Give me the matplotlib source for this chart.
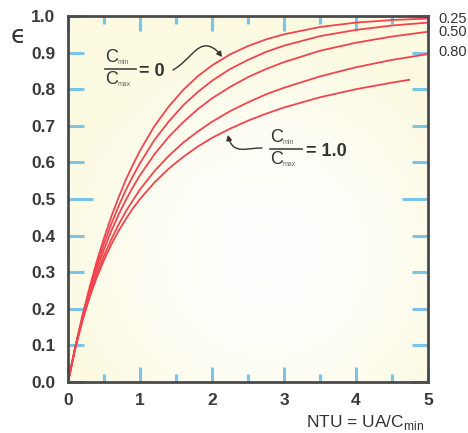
import numpy as np
import matplotlib
matplotlib.use('Agg')
import matplotlib.pyplot as plt
from matplotlib.path import Path
from matplotlib.patches import FancyArrowPatch

plt.rcParams['font.family'] = ['Liberation Sans', 'DejaVu Sans']
plt.rcParams['mathtext.fontset'] = 'custom'
plt.rcParams['mathtext.rm'] = 'Liberation Sans'

# ============================================================
# 数据
# ============================================================
ntu = [0, 0.1, 0.2, 0.3, 0.4, 0.5, 0.6, 0.7, 0.8, 0.9, 1.0, 1.2, 1.4, 1.6, 1.8, 2.0,
       2.25, 2.5, 2.75, 3.0, 3.5, 4.0, 4.5, 5.0]
eff_cr0 = [0, 0.095, 0.181, 0.259, 0.330, 0.393, 0.451, 0.503, 0.551, 0.593, 0.632, 0.699,
           0.753, 0.798, 0.835, 0.865, 0.895, 0.918, 0.936, 0.950, 0.970, 0.982, 0.989, 0.993]
eff_cr025 = [0, 0.094, 0.178, 0.252, 0.318, 0.378, 0.431, 0.479, 0.523, 0.562, 0.598, 0.661,
             0.712, 0.756, 0.792, 0.823, 0.855, 0.880, 0.902, 0.919, 0.945, 0.962, 0.974, 0.982]
eff_cr050 = [0, 0.093, 0.174, 0.245, 0.307, 0.362, 0.412, 0.456, 0.496, 0.532, 0.565, 0.622,
             0.670, 0.710, 0.745, 0.775, 0.806, 0.833, 0.855, 0.874, 0.905, 0.927, 0.944, 0.957]
eff_cr080 = [0, 0.092, 0.169, 0.236, 0.294, 0.345, 0.389, 0.429, 0.465, 0.496, 0.526, 0.576,
             0.618, 0.654, 0.684, 0.711, 0.740, 0.764, 0.786, 0.804, 0.835, 0.860, 0.880, 0.896]
ntu_cr1 = [0, 0.1, 0.2, 0.3, 0.4, 0.5, 0.6, 0.7, 0.8, 0.9, 1.0, 1.2, 1.4, 1.6, 1.8, 2.0,
           2.25, 2.5, 2.75, 3.0, 3.5, 4.0, 4.5, 4.75]
eff_cr1 = [0, 0.091, 0.167, 0.231, 0.286, 0.333, 0.375, 0.412, 0.444, 0.474, 0.500, 0.545,
           0.583, 0.615, 0.643, 0.667, 0.692, 0.714, 0.733, 0.750, 0.778, 0.800, 0.818, 0.826]

right_labels = ['0.25', '0.50', '0.80']
right_label_y = [0.992, 0.955, 0.902]

# ============================================================
# 画图
# ============================================================
W, H = 468, 433
fig = plt.figure(figsize=(W / 100, H / 100), dpi=100)
ax = fig.add_axes([68 / W, 1 - 382 / H, 360 / W, 366 / H])

def px(x, y):
    """像素 -> figure fraction"""
    return x / W, 1 - y / H

def pd_(x, y):
    """像素 -> 数据坐标"""
    return (x - 68) / 72.0, (382 - y) / 366.0

# 背景渐变: 中心白, 四周淡黄
gx, gy = np.meshgrid(np.linspace(0, 1, 200), np.linspace(0, 1, 200))
r = np.sqrt((gx - 0.55) ** 2 + (gy - 0.35) ** 2) / 0.6
t = np.clip(r, 0, 1) ** 1.6
cream = np.array([252, 250, 224]) / 255.0
img = (1 - t)[..., None] * np.ones(3) + t[..., None] * cream
ax.imshow(img, extent=[0, 5, 0, 1], origin='lower', aspect='auto', zorder=0)

red = '#f0454f'
for xs, ys in [(ntu, eff_cr0), (ntu, eff_cr025), (ntu, eff_cr050), (ntu, eff_cr080), (ntu_cr1, eff_cr1)]:
    ax.plot(xs, ys, color=red, lw=1.3, zorder=2, solid_capstyle='butt', solid_joinstyle='round')

ax.set_xlim(0, 5)
ax.set_ylim(0, 1)

# 刻度
ax.set_xticks([0, 1, 2, 3, 4, 5])
ax.set_xticks([0.5, 1.5, 2.5, 3.5, 4.5], minor=True)
ax.set_yticks(np.round(np.arange(0, 1.01, 0.1), 1))
ax.set_yticklabels([f'{v:.1f}' for v in np.arange(0, 1.01, 0.1)])
tick_c = '#7cc4e6'
ax.tick_params(axis='x', which='major', direction='in', length=10.5, width=2.2, color=tick_c,
               top=True, pad=8, labelsize=12.5, labelcolor='#3a3a3a')
ax.tick_params(axis='x', which='minor', direction='in', length=5.5, width=2.2, color=tick_c, top=True)
ax.tick_params(axis='y', which='major', direction='in', length=11.5, width=2.2, color=tick_c,
               right=True, pad=9, labelsize=12.5, labelcolor='#3a3a3a')
for tk in ax.yaxis.get_major_ticks():
    if abs(tk.get_loc() - 0.5) < 1e-6:
        tk.tick1line.set_markersize(18)
        tk.tick2line.set_markersize(19)
for lab in ax.get_xticklabels() + ax.get_yticklabels():
    lab.set_fontweight('bold')

for sp in ax.spines.values():
    sp.set_color('#4a4a4a')
    sp.set_linewidth(2.0)
    sp.set_zorder(5)

# 轴标签
fig.text(*px(18, 36), '\u03f5', fontsize=18, ha='center', va='center', color='#333333',
         family=['DejaVu Sans'])
fig.text(*px(365, 423), r'NTU = UA/C$_{\rm min}$', fontsize=12.5, ha='center', va='center',
         color='#333333')

# 右侧标签 (被图边裁掉一部分)
for lab, yv in zip(right_labels, right_label_y):
    fig.text(438 / W, 1 - (382 - yv * 366) / H, lab, fontsize=10.5, ha='left', va='center',
             color='#333333')

# 分数标签
def frac_label(xl, xr, yline, rhs, rhs_x):
    fig.text(*px(xl, yline - 11), 'C', fontsize=13, ha='left', va='center', color='#333333')
    fig.text(*px(xl + 13, yline - 7), 'min', fontsize=5, ha='left', va='center', color='#666666')
    fig.text(*px(xl, yline + 11), 'C', fontsize=13, ha='left', va='center', color='#333333')
    fig.text(*px(xl + 13, yline + 15), 'max', fontsize=5, ha='left', va='center', color='#666666')
    x0, y0 = px(xl, yline)
    x1, _ = px(xr, yline)
    fig.add_artist(plt.Line2D([x0, x1], [y0, y0], color='#444444', lw=1.2))
    fig.text(*px(rhs_x, yline + 2), rhs, fontsize=13, ha='left', va='center', color='#333333',
             fontweight='bold')

frac_label(105, 136, 69, '= 0', 139)
frac_label(270, 302, 149, '= 1.0', 306)

# 引线箭头
def curve_arrow(pts):
    verts = [pd_(*p) for p in pts]
    codes = [Path.MOVETO] + [Path.CURVE4] * (len(verts) - 1)
    arr = FancyArrowPatch(path=Path(verts, codes), arrowstyle='-|>,head_length=3,head_width=1.6',
                          color='#333333', lw=1.0, zorder=4)
    ax.add_patch(arr)

curve_arrow([(173, 70), (190, 60), (196, 44), (208, 46), (216, 48), (219, 53), (222, 57)])
curve_arrow([(262, 148), (250, 148), (242, 151), (236, 148), (231, 146), (229, 140), (228, 135)])

plt.savefig('out.png', dpi=100)
